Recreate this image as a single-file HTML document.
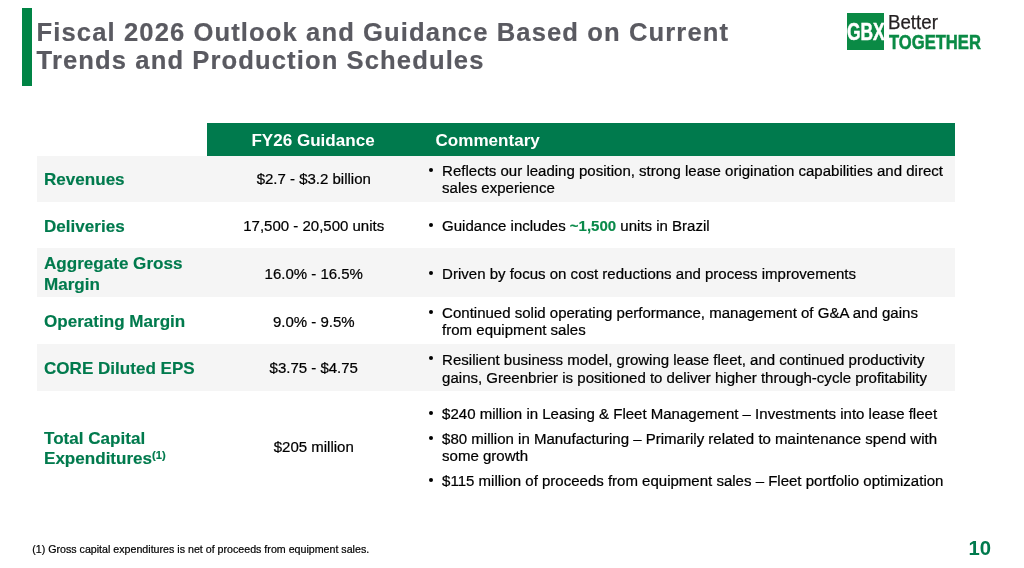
<!DOCTYPE html>
<html lang="en">
<head>
<meta charset="utf-8">
<title>Fiscal 2026 Outlook and Guidance</title>
<style>
  html, body { margin: 0; padding: 0; background: #ffffff; }
  body { width: 1024px; height: 568px; position: relative; overflow: hidden;
         font-family: "Liberation Sans", Arial, sans-serif; color: #1a1a1a; }
  .abs { position: absolute; white-space: nowrap; }
  .bar { left: 21.6px; top: 8px; width: 10.8px; height: 77.5px; background: #008445; }
  .title { left: 36.6px; top: 18px; -webkit-text-stroke: 0.2px #5a5a61; font-size: 25.6px; line-height: 28px; font-weight: bold;
           color: #5a5a61; letter-spacing: 1.1px; }
  .hdr { left: 207px; top: 123px; width: 748px; height: 32.75px; background: #007a4d; }
  .row { left: 37px; width: 918px; background: #f5f5f5; }
  .h { font-size: 17.07px; font-weight: bold; color: #ffffff; line-height: 20px; }
  .lab { left: 44px; font-size: 17.07px; font-weight: bold; color: #007a4d; line-height: 20.5px; -webkit-text-stroke: 0.15px #007a4d; }
  .val { left: 207px; width: 213.5px; text-align: center; font-size: 15px; line-height: 18px; color: #000; -webkit-text-stroke: 0.22px #000; }
  .txt { left: 442.1px; font-size: 15.02px; line-height: 17.9px; color: #000; -webkit-text-stroke: 0.22px #000; }
  .dot { width: 4px; height: 4px; border-radius: 50%; background: #000; left: 428.9px; }
  .g { color: #0a8a4a; font-weight: bold; -webkit-text-stroke: 0.15px #0a8a4a; }
  sup.s { font-size: 11.2px; vertical-align: baseline; position: relative; top: -5.5px; }
  .foot { left: 32.2px; top: 543px; font-size: 10.67px; line-height: 12px; color: #000; -webkit-text-stroke: 0.2px #000; }
  .pg { left: 968.6px; top: 537px; font-size: 20.3px; line-height: 22px; font-weight: bold; color: #007a4d; }
  .logo-box { left: 847px; top: 13px; width: 37px; height: 37px; background: #0a8a45; }
  .cond { transform-origin: 0 0; display: inline-block; }
</style>
</head>
<body>
  <div class="abs bar"></div>
  <div class="abs title">Fiscal 2026 Outlook and Guidance Based on Current<br>Trends and Production Schedules</div>

  <!-- logo -->
  <div class="abs logo-box"></div>
  <div class="abs cond" style="left:846.7px; top:19px; font-size:23px; line-height:26px; font-weight:bold; color:#fff; -webkit-text-stroke:0.5px #fff; transform:scaleX(0.757);">GBX</div>
  <div class="abs cond" style="left:887.6px; top:11px; font-size:20px; line-height:22px; color:#231f20; -webkit-text-stroke:0.25px #231f20; transform:scaleX(0.935);">Better</div>
  <div class="abs cond" style="left:889px; top:30px; font-size:20.8px; line-height:24px; font-weight:bold; color:#0a8a45; -webkit-text-stroke:0.5px #0a8a45; transform:scaleX(0.798);">TOGETHER</div>

  <!-- table -->
  <div class="abs hdr"></div>
  <div class="abs row" style="top:155.5px; height:46px;"></div>
  <div class="abs row" style="top:248px; height:49px;"></div>
  <div class="abs row" style="top:344px; height:46.5px;"></div>

  <div class="abs h" style="left:206.3px; width:213.5px; text-align:center; top:130.6px;">FY26 Guidance</div>
  <div class="abs h" style="left:435.5px; top:130.6px;">Commentary</div>

  <div class="abs lab" style="top:170.3px;">Revenues</div>
  <div class="abs lab" style="top:216.8px;">Deliveries</div>
  <div class="abs lab" style="top:254.3px;">Aggregate Gross<br>Margin</div>
  <div class="abs lab" style="top:312.3px;">Operating Margin</div>
  <div class="abs lab" style="top:359.3px;">CORE Diluted EPS</div>
  <div class="abs lab" style="top:428.6px;">Total Capital<br>Expenditures<sup class="s">(1)</sup></div>

  <div class="abs val" style="top:170.4px;">$2.7 - $3.2 billion</div>
  <div class="abs val" style="top:216.9px;">17,500 - 20,500 units</div>
  <div class="abs val" style="top:264.8px;">16.0% - 16.5%</div>
  <div class="abs val" style="top:313.3px;">9.0% - 9.5%</div>
  <div class="abs val" style="top:359.1px;">$3.75 - $4.75</div>
  <div class="abs val" style="top:438.3px;">$205 million</div>

  <div class="abs dot" style="top:167.6px;"></div>
  <div class="abs txt" style="top:161.5px;">Reflects our leading position, strong lease origination capabilities and direct<br>sales experience</div>
  <div class="abs dot" style="top:223.1px;"></div>
  <div class="abs txt" style="top:217px;">Guidance includes <span class="g">~1,500</span> units in Brazil</div>
  <div class="abs dot" style="top:270.85px;"></div>
  <div class="abs txt" style="top:264.7px;">Driven by focus on cost reductions and process improvements</div>
  <div class="abs dot" style="top:309.6px;"></div>
  <div class="abs txt" style="top:303.5px;">Continued solid operating performance, management of G&amp;A and gains<br>from equipment sales</div>
  <div class="abs dot" style="top:356.3px;"></div>
  <div class="abs txt" style="top:351.2px;">Resilient business model, growing lease fleet, and continued productivity<br>gains, Greenbrier is positioned to deliver higher through-cycle profitability</div>
  <div class="abs dot" style="top:411.35px;"></div>
  <div class="abs txt" style="top:405.2px;">$240 million in Leasing &amp; Fleet Management – Investments into lease fleet</div>
  <div class="abs dot" style="top:435.6px;"></div>
  <div class="abs txt" style="top:429.5px;">$80 million in Manufacturing – Primarily related to maintenance spend with<br>some growth</div>
  <div class="abs dot" style="top:478.1px;"></div>
  <div class="abs txt" style="top:472px;">$115 million of proceeds from equipment sales – Fleet portfolio optimization</div>

  <div class="abs foot">(1) Gross capital expenditures is net of proceeds from equipment sales.</div>
  <div class="abs pg">10</div>
</body>
</html>
